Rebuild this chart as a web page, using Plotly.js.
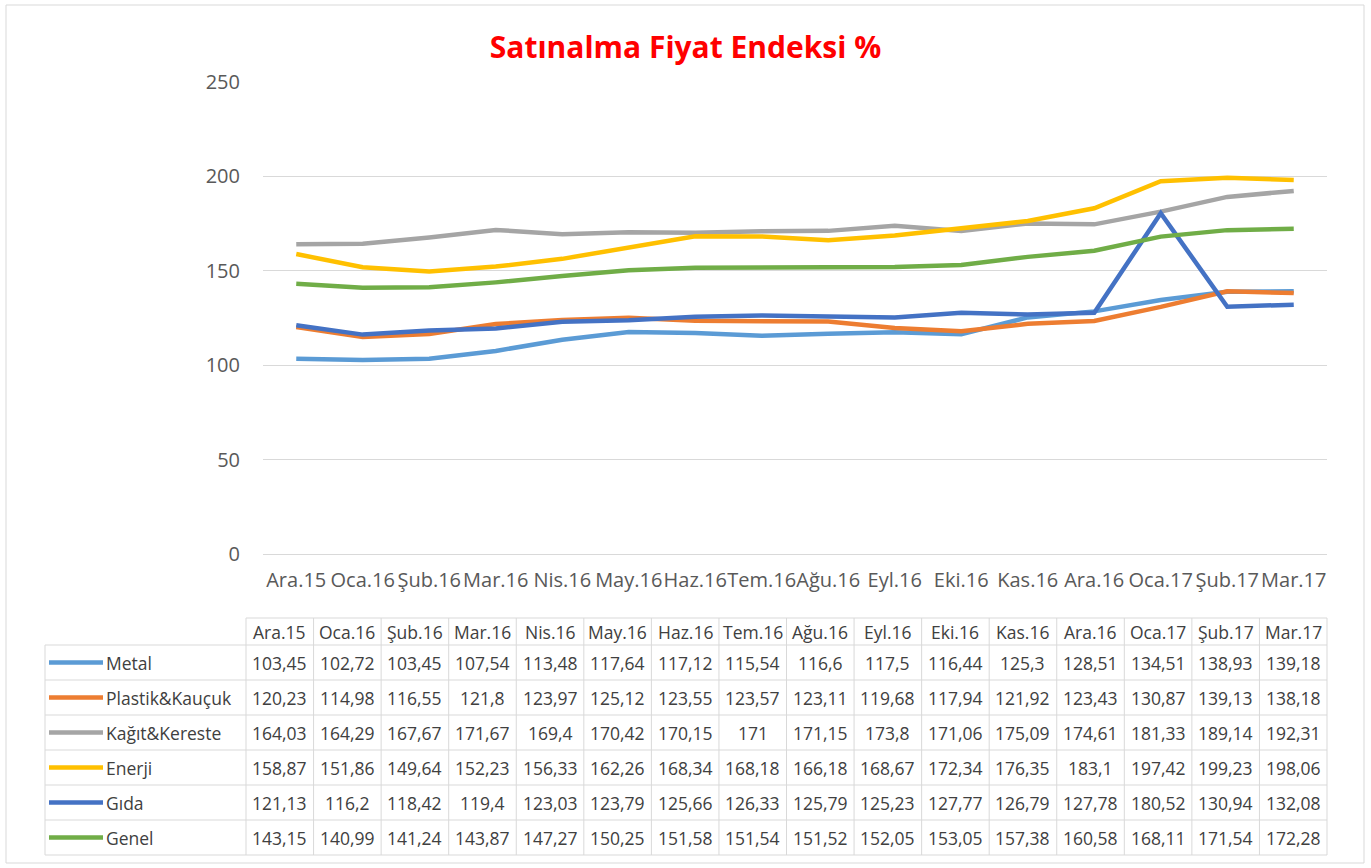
<!DOCTYPE html>
<html>
<head>
<meta charset="utf-8">
<script src="https://cdn.plot.ly/plotly-3.0.1.min.js"></script>
<style>html,body{margin:0;padding:0;background:#fff;}#chart{width:1371px;height:868px;}</style>
</head>
<body>
<div id="chart"></div>
<script>
const months = ["Ara.15","Oca.16","Şub.16","Mar.16","Nis.16","May.16","Haz.16","Tem.16","Ağu.16","Eyl.16","Eki.16","Kas.16","Ara.16","Oca.17","Şub.17","Mar.17"];
const seriesNames = ["Metal","Plastik&Kauçuk","Kağıt&Kereste","Enerji","Gıda","Genel"];
const metal   = [103.45,102.72,103.45,107.54,113.48,117.64,117.12,115.54,116.6,117.5,116.44,125.3,128.51,134.51,138.93,139.18];
const plastik = [120.23,114.98,116.55,121.8,123.97,125.12,123.55,123.57,123.11,119.68,117.94,121.92,123.43,130.87,139.13,138.18];
const kagit   = [164.03,164.29,167.67,171.67,169.4,170.42,170.15,171,171.15,173.8,171.06,175.09,174.61,181.33,189.14,192.31];
const enerji  = [158.87,151.86,149.64,152.23,156.33,162.26,168.34,168.18,166.18,168.67,172.34,176.35,183.1,197.42,199.23,198.06];
const gida    = [121.13,116.2,118.42,119.4,123.03,123.79,125.66,126.33,125.79,125.23,127.77,126.79,127.78,180.52,130.94,132.08];
const genel   = [143.15,140.99,141.24,143.87,147.27,150.25,151.58,151.54,151.52,152.05,153.05,157.38,160.58,168.11,171.54,172.28];
const yTicks = [0,50,100,150,200,250];

const seriesValues = [metal, plastik, kagit, enerji, gida, genel];
const colors = ["#5B9BD5","#ED7D31","#A5A5A5","#FFC000","#4472C4","#70AD47"];

const FONT = "'Open Sans', 'Noto Sans', sans-serif";
// plot area in pixels
const L = 263, R = 1327, T = 82, B = 554;
const W = R - L, H = B - T;
const fx = px => (px - L) / W;
const fy = py => (B - py) / H;

const traces = seriesNames.map((n, i) => ({
  type: "scatter", mode: "lines", name: n,
  x: months, y: seriesValues[i],
  line: {color: colors[i], width: 4.5},
  hoverinfo: "skip"
}));

const shapes = [];
const annotations = [];

// outer chart border
shapes.push({type:"rect", xref:"paper", yref:"paper", x0:fx(6), x1:fx(1364), y0:fy(5), y1:fy(863), line:{color:"#d9d9d9", width:1}});

// data table
const tLeft = 45, tCol0 = 246, tRight = 1327;
const colW = (tRight - tCol0) / months.length;
const hTop = 618, hBot = 645;
const rowH = (855 - hBot) / seriesNames.length;
const gridCol = "#d9d9d9";
const tFont = {family: FONT, size: 17.5, color: "#404040"};

shapes.push({type:"line", xref:"paper", yref:"paper", x0:fx(tCol0), x1:fx(tRight), y0:fy(hTop), y1:fy(hTop), line:{color:gridCol, width:1}});
for (let r = 0; r <= seriesNames.length; r++) {
  const y = hBot + r * rowH;
  shapes.push({type:"line", xref:"paper", yref:"paper", x0:fx(tLeft), x1:fx(tRight), y0:fy(y), y1:fy(y), line:{color:gridCol, width:1}});
}
shapes.push({type:"line", xref:"paper", yref:"paper", x0:fx(tLeft), x1:fx(tLeft), y0:fy(hBot), y1:fy(855), line:{color:gridCol, width:1}});
for (let c = 0; c <= months.length; c++) {
  const x = tCol0 + c * colW;
  shapes.push({type:"line", xref:"paper", yref:"paper", x0:fx(x), x1:fx(x), y0:fy(hTop), y1:fy(855), line:{color:gridCol, width:1}});
}
months.forEach((m, c) => {
  annotations.push({xref:"paper", yref:"paper", x:fx(tCol0 + (c + 0.5) * colW), y:fy((hTop + hBot) / 2),
    text:m, showarrow:false, xanchor:"center", yanchor:"middle", font:tFont});
});
seriesNames.forEach((n, r) => {
  const yc = hBot + (r + 0.5) * rowH;
  shapes.push({type:"line", xref:"paper", yref:"paper", x0:fx(49), x1:fx(103), y0:fy(yc), y1:fy(yc), line:{color:colors[r], width:4.5}});
  annotations.push({xref:"paper", yref:"paper", x:fx(104), y:fy(yc), text:n, showarrow:false, xanchor:"left", yanchor:"middle", font:tFont});
  seriesValues[r].forEach((v, c) => {
    annotations.push({xref:"paper", yref:"paper", x:fx(tCol0 + (c + 0.5) * colW), y:fy(yc),
      text:String(v).replace(".", ","), showarrow:false, xanchor:"center", yanchor:"middle", font:tFont});
  });
});

const layout = {
  width: 1371, height: 868,
  margin: {l: L, r: 1371 - R, t: T, b: 868 - B, pad: 0},
  paper_bgcolor: "#fff", plot_bgcolor: "#fff",
  showlegend: false,
  font: {family: FONT, color: "#595959"},
  title: {text: "<b>Satınalma Fiyat Endeksi %</b>", x: 0.5, xanchor: "center", y: 1 - 47/868, yanchor: "middle", yref: "container",
    font: {family: FONT, size: 30, color: "#FF0000"}},
  xaxis: {type: "category", range: [-0.5, months.length - 0.5], showgrid: false, zeroline: false, showline: false,
    ticks: "", tickangle: 0, tickfont: {family: FONT, size: 20, color: "#595959"}, ticklabelstandoff: 12, fixedrange: true},
  yaxis: {range: [0, 250], tickvals: yTicks, showgrid: true, gridcolor: "#d9d9d9", gridwidth: 1,
    zeroline: true, zerolinecolor: "#d9d9d9", zerolinewidth: 1, showline: false, ticks: "",
    tickfont: {family: FONT, size: 20, color: "#595959"}, ticklabelstandoff: 22, fixedrange: true},
  shapes: shapes,
  annotations: annotations
};

Plotly.newPlot("chart", traces, layout, {displayModeBar: false, staticPlot: true});
</script>
</body>
</html>
